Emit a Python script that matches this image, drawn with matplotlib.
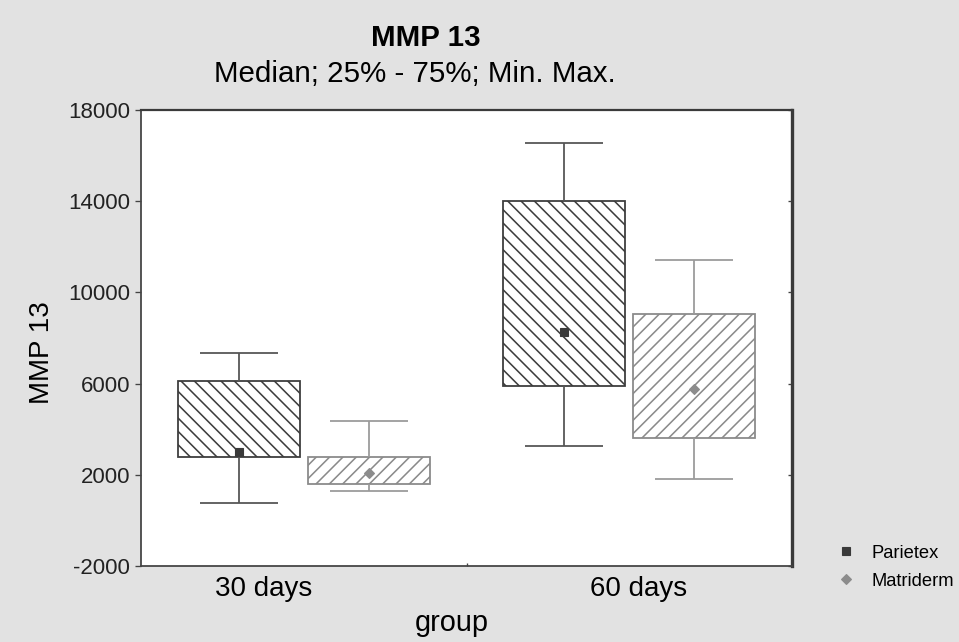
import matplotlib
matplotlib.use("Agg")
import matplotlib.pyplot as plt
import matplotlib.transforms as mtransforms
from matplotlib.lines import Line2D
import numpy as np

# ---- data ----
groups = ["30 days", "60 days"]
series = ["Parietex", "Matriderm"]
parietex_min = [750, 3250]
parietex_q1 = [2800, 5900]
parietex_med = [3000, 8250]
parietex_q3 = [6100, 14000]
parietex_max = [7350, 16550]
matriderm_min = [1270, 1800]
matriderm_q1 = [1600, 3600]
matriderm_med = [2100, 5750]
matriderm_q3 = [2800, 9050]
matriderm_max = [4350, 11400]
yticks = [-2000, 2000, 6000, 10000, 14000, 18000]

plt.rcParams['font.family'] = ['Liberation Sans', 'DejaVu Sans']
plt.rcParams['hatch.linewidth'] = 1.4

DPI = 80
fig = plt.figure(figsize=(959 / DPI, 642 / DPI), dpi=DPI, facecolor='#e2e2e2')
ax = fig.add_axes([141 / 959, 1 - 566 / 642, (792 - 141) / 959, (566 - 110) / 642])
ax.set_facecolor('white')

x = np.arange(len(groups))
offset = 0.2
width = 0.375
cap = 0.24

styles = [
    dict(stats=(parietex_min, parietex_q1, parietex_med, parietex_q3, parietex_max),
         dx=-offset, color='#3c3c3c', hatch='\\\\', marker='s', msize=8, mcolor='#3a3a3a', wcolor='#555555'),
    dict(stats=(matriderm_min, matriderm_q1, matriderm_med, matriderm_q3, matriderm_max),
         dx=offset, color='#8a8a8a', hatch='//', marker='D', msize=6, mcolor='#8c8c8c', wcolor='#9a9a9a'),
]

for st in styles:
    mn, q1, med, q3, mx = [np.array(a, dtype=float) for a in st['stats']]
    xp = x + st['dx']
    ax.bar(xp, q3 - q1, bottom=q1, width=width, facecolor='white',
           edgecolor=st['color'], hatch=st['hatch'], linewidth=1.6, zorder=2)
    ax.vlines(xp, q3, mx, colors=st['wcolor'], linewidth=1.6, zorder=2)
    ax.vlines(xp, mn, q1, colors=st['wcolor'], linewidth=1.6, zorder=2)
    ax.hlines(mx, xp - cap / 2, xp + cap / 2, colors=st['wcolor'], linewidth=1.6, zorder=2)
    ax.hlines(mn, xp - cap / 2, xp + cap / 2, colors=st['wcolor'], linewidth=1.6, zorder=2)
    ax.plot(xp, med, linestyle='none', marker=st['marker'], markersize=st['msize'],
            color=st['mcolor'], zorder=3)

ax.set_xlim(-0.5, len(groups) - 0.5)
ax.set_ylim(-2000, 18000)
ax.set_yticks(yticks)
ax.set_yticklabels([str(v) for v in yticks])
ax.tick_params(axis='y', which='major', direction='out', length=5, width=1.2,
               color='#444444', labelsize=20, labelcolor='#222222', pad=5, right=True)
ax.set_xticks(x)
ax.set_xticklabels(groups)
ax.set_xticks([0.5], minor=True)
ax.tick_params(axis='x', which='major', length=0, labelsize=25, pad=9)
ax.tick_params(axis='x', which='minor', direction='in', length=3, width=1.2, color='#444444')

# right-side inward ticks
for t in ax.yaxis.get_major_ticks():
    t.tick2line.set_marker(matplotlib.lines.TICKLEFT)
    t.tick2line.set_markersize(4)

# label offsets to mimic reference placement
offs = [-40 / DPI, 9 / DPI]
for lab, o in zip(ax.get_xticklabels(), offs):
    lab.set_transform(lab.get_transform() + mtransforms.ScaledTranslation(o, 0, fig.dpi_scale_trans))

for s in ['left', 'bottom']:
    ax.spines[s].set_color('#444444')
    ax.spines[s].set_linewidth(1.6)
ax.spines['top'].set_color('#3a3a3a')
ax.spines['top'].set_linewidth(2.0)
ax.spines['right'].set_color('#3a3a3a')
ax.spines['right'].set_linewidth(3.0)

ax.set_xlabel('group', fontsize=26, va='center')
ax.xaxis.set_label_coords((452 - 141) / 651, -(623 - 566) / 456)
ax.set_ylabel('MMP 13', fontsize=25, va='center')
ax.yaxis.set_label_coords((42 - 141) / 651, 1 - (353 - 110) / 456)

fig.text(426 / 959, 1 - 38 / 642, 'MMP 13', fontsize=26.5, fontweight='bold',
         ha='center', va='center')
fig.text(415 / 959, 1 - 74 / 642, 'Median; 25% - 75%; Min. Max.', fontsize=26.5,
         ha='center', va='center')

handles = [
    Line2D([], [], linestyle='none', marker='s', markersize=8, color='#3a3a3a'),
    Line2D([], [], linestyle='none', marker='D', markersize=6, color='#8c8c8c'),
]
fig.legend(handles, series, loc='center left', bbox_to_anchor=(837 / 959, 1 - 567 / 642),
           frameon=False, fontsize=16.5, handlelength=1.0, handletextpad=0.9,
           labelspacing=0.6, borderpad=0, borderaxespad=0)

fig.savefig('out.png', dpi=DPI, facecolor=fig.get_facecolor())
